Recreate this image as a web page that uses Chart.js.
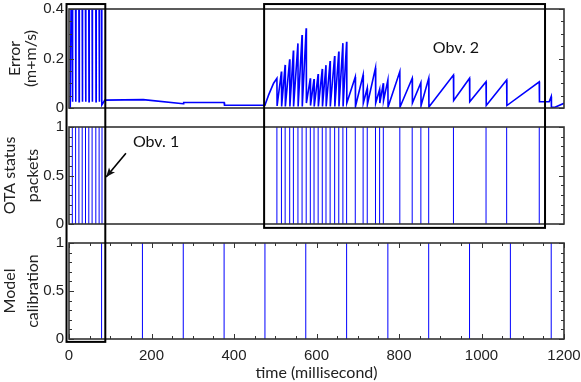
<!DOCTYPE html>
<html>
<head>
<meta charset="utf-8">
<script src="https://cdn.jsdelivr.net/npm/chart.js@4.4.0/dist/chart.umd.min.js"></script>
<style>
  html, body { margin: 0; padding: 0; background: #fff; }
  #wrap { position: relative; width: 581px; height: 382px; }
  canvas { position: absolute; left: 0; }
</style>
</head>
<body>
<div id="wrap">
  <canvas id="errChart" width="581" height="117" style="top:0px"></canvas>
  <canvas id="otaChart" width="581" height="115" style="top:118px"></canvas>
  <canvas id="calChart" width="581" height="148" style="top:234px"></canvas>
  <canvas id="overlay" width="581" height="382" style="top:0px;pointer-events:none"></canvas>
</div>
<script>
// error signal (m+m/s)
const errorTime = [
  3, 5, 8, 8.5, 9, 16, 16.5, 17, 24, 24.5, 25, 32, 32.5, 33, 40, 40.5, 41,
  48, 48.5, 49, 56, 56.5, 57, 65, 65.5, 66, 73, 73.5, 74, 79, 79.5, 87,
  180, 277, 278, 376, 377, 475, 484, 496,
  504, 504.5, 515, 515.5, 524, 524.5, 535, 535.5, 544, 544.5, 555, 555.5, 565, 565.5, 575, 575.5,
  585, 585.5, 594, 594.5, 604, 604.5, 614, 614.5, 623, 623.5, 633, 633.5, 644, 644.5, 654, 654.5,
  664, 664.5, 673, 673.5, 694, 694.5, 713, 713.5, 723, 723.5, 743, 743.5, 753, 753.5, 762, 762.5,
  773, 773.5, 802, 802.5, 832, 832.5, 853, 853.5, 872, 872.5, 932, 932.5, 971, 971.5,
  1011, 1011.5, 1061, 1061.5, 1140, 1140.5, 1164, 1169, 1169.5, 1178, 1200
];
const errorValue = [
  0, 0.4, 0.4, 0.025, 0.4, 0.4, 0.025, 0.4, 0.4, 0.025, 0.4, 0.4, 0.025, 0.4, 0.4, 0.025, 0.4,
  0.4, 0.025, 0.4, 0.4, 0.025, 0.4, 0.4, 0.025, 0.4, 0.4, 0.025, 0.4, 0.4, 0.012, 0.032,
  0.034, 0.017, 0.022, 0.022, 0.011, 0.011, 0.053, 0.1,
  0.12, 0.008, 0.147, 0.006, 0.174, 0.006, 0.197, 0.006, 0.232, 0.006, 0.261, 0.006, 0.295, 0.006, 0.322, 0.02,
  0.12, 0.01, 0.117, 0.006, 0.137, 0.006, 0.158, 0.006, 0.173, 0.006, 0.19, 0.006, 0.21, 0.006, 0.228, 0.006,
  0.262, 0.006, 0.268, 0.02, 0.125, 0.006, 0.133, 0.02, 0.08, 0.015, 0.162, 0.02, 0.075, 0.02, 0.1, 0.03,
  0.113, 0.004, 0.147, 0.004, 0.12, 0.02, 0.102, 0.01, 0.12, 0.004, 0.133, 0.03, 0.12, 0.025,
  0.106, 0.01, 0.113, 0.01, 0.106, 0.025, 0.025, 0.046, 0.003, 0.003, 0.019
];

// OTA status packet arrivals (ms)
const otaPackets = [
  8, 16, 24, 32, 40, 48, 56, 65, 73, 80,
  504, 515, 524, 535, 544, 555, 565, 575, 585, 594, 604, 614, 623, 633, 644, 654, 664, 673,
  694, 713, 723, 743, 753, 762, 802, 832, 853, 872, 932, 1011, 1061, 1140
];

// model calibration events (ms)
const calibrations = [79, 178, 277, 376, 475, 574, 673, 773, 872, 971, 1070, 1169];

const xTicks = [0, 200, 400, 600, 800, 1000, 1200];

const BLUE = '#0000ff';
const tickFont = { family: 'Liberation Sans', size: 15 };

function spikes(times) {
  const pts = [];
  times.forEach(t => {
    pts.push({ x: t, y: 0 }, { x: t, y: 1 }, { x: t, y: null });
  });
  return pts;
}

// box around each plot with short inward ticks on both sides
const frameTicks = {
  id: 'frameTicks',
  afterDatasetsDraw(chart, args, opts) {
    const { ctx, chartArea: a } = chart;
    const ys = chart.scales.y, xs = chart.scales.x;
    ctx.save();
    ctx.strokeStyle = '#333';
    ctx.lineWidth = 1;
    const seg = (x1, y1, x2, y2) => { ctx.beginPath(); ctx.moveTo(x1, y1); ctx.lineTo(x2, y2); ctx.stroke(); };
    let n = Math.round((ys.max - ys.min) / opts.yMinor);
    for (let i = 0; i <= n; i++) {
      const v = ys.min + i * opts.yMinor;
      const py = Math.round(ys.getPixelForValue(v)) + 0.5;
      const r = v / opts.yMajor;
      const len = Math.abs(r - Math.round(r)) < 1e-6 ? 5 : 3;
      seg(a.left, py, a.left + len, py);
      seg(a.right, py, a.right - len, py);
    }
    if (opts.xTicks) {
      n = Math.round((xs.max - xs.min) / opts.xMinor);
      for (let i = 0; i <= n; i++) {
        const v = xs.min + i * opts.xMinor;
        const px = Math.round(xs.getPixelForValue(v)) + 0.5;
        const len = v % opts.xMajor === 0 ? 5 : 3;
        seg(px, a.bottom, px, a.bottom - len);
        seg(px, a.top, px, a.top + len);
      }
    }
    ctx.lineWidth = 1.6;
    ctx.strokeRect(a.left, a.top, a.right - a.left, a.bottom - a.top);
    ctx.restore();
  }
};

function baseOptions(yMax, yStep, titleLines, titleLH, titlePad, ticksCfg, showX, padBottom) {
  return {
    responsive: false,
    animation: false,
    events: [],
    layout: { padding: { top: 9, right: 17, bottom: padBottom, left: 0 } },
    plugins: { legend: { display: false }, tooltip: { enabled: false }, frameTicks: ticksCfg },
    scales: {
      x: {
        type: 'linear', min: 0, max: 1200,
        display: showX,
        grid: { display: false, drawTicks: false },
        border: { display: false },
        afterBuildTicks: s => { s.ticks = xTicks.map(v => ({ value: v })); },
        afterFit: s => {
          if (showX) s.height = 43;
          s.paddingLeft = 0; s.paddingRight = 0;
        },
        ticks: { font: tickFont, color: '#222', padding: 8, maxRotation: 0, callback: v => String(v) },
        title: {
          display: showX, text: 'time (millisecond)', color: '#222',
          font: { family: 'Lato', size: 16, lineHeight: 1.2 },
          padding: { top: 0, bottom: 0 }
        }
      },
      y: {
        min: 0, max: yMax,
        grid: { display: false, drawTicks: false },
        border: { display: false },
        afterFit: s => {
          s.width = 69;
          s.paddingTop = 0; s.paddingBottom = 0;
        },
        ticks: { stepSize: yStep, font: tickFont, color: '#222', padding: 5, callback: v => String(v) },
        title: {
          display: true, text: titleLines, color: '#222',
          font: { family: 'Lato', size: 16, lineHeight: titleLH },
          padding: { top: titlePad, bottom: 0 }
        }
      }
    }
  };
}

const errChart = new Chart(document.getElementById('errChart'), {
  type: 'line',
  data: {
    datasets: [{
      data: errorTime.map((t, i) => ({ x: t, y: errorValue[i] })),
      borderColor: BLUE, borderWidth: 1.6, pointRadius: 0, tension: 0
    }]
  },
  options: baseOptions(0.4, 0.2, ['Error', '(m+m/s)'], 1.05, 6,
    { yMajor: 0.2, yMinor: 0.05, xTicks: false }, false, 9),
  plugins: [frameTicks]
});

const otaChart = new Chart(document.getElementById('otaChart'), {
  type: 'line',
  data: {
    datasets: [{
      data: spikes(otaPackets),
      borderColor: BLUE, borderWidth: 1, pointRadius: 0, tension: 0, spanGaps: false
    }]
  },
  options: baseOptions(1, 0.5, ['OTA status', 'packets'], 1.45, -2,
    { yMajor: 0.5, yMinor: 0.1, xTicks: false }, false, 9),
  plugins: [frameTicks]
});

const calChart = new Chart(document.getElementById('calChart'), {
  type: 'line',
  data: {
    datasets: [{
      data: spikes(calibrations),
      borderColor: BLUE, borderWidth: 1, pointRadius: 0, tension: 0, spanGaps: false
    }]
  },
  options: baseOptions(1, 0.5, ['Model', 'calibration'], 1.45, -2,
    { yMajor: 0.5, yMinor: 0.1, xTicks: true, xMajor: 200, xMinor: 50 }, true, 0),
  plugins: [frameTicks]
});

// annotations spanning the panels
const tops = { err: 0, ota: 118, cal: 234 };
function at(chart, top, xv, yv) {
  return [chart.scales.x.getPixelForValue(xv), top + chart.scales.y.getPixelForValue(yv)];
}

const ov = document.getElementById('overlay').getContext('2d');
ov.strokeStyle = '#000';
ov.lineWidth = 2;

function box(x0, x1, topChart, topOff, yTop, botChart, botOff, yBot) {
  const p0 = at(topChart, topOff, x0, yTop);
  const p1 = at(botChart, botOff, x1, yBot);
  ov.strokeRect(p0[0], p0[1], p1[0] - p0[0], p1[1] - p0[1]);
}
box(-6, 88, errChart, tops.err, 0.42, calChart, tops.cal, -0.03);
box(473, 1154, errChart, tops.err, 0.42, otaChart, tops.ota, -0.04);

ov.fillStyle = '#111';
ov.font = '16px Lato';
ov.textAlign = 'center';
ov.textBaseline = 'middle';
let p = at(errChart, tops.err, 938, 0.244);
ov.fillText('Obv. 2', p[0], p[1]);
p = at(otaChart, tops.ota, 211, 0.845);
ov.fillText('Obv. 1', p[0], p[1]);

// arrow to Obv. 1
const tail = at(otaChart, tops.ota, 138, 0.73);
const head = at(otaChart, tops.ota, 90, 0.485);
ov.lineWidth = 1.6;
ov.beginPath();
ov.moveTo(tail[0], tail[1]);
ov.lineTo(head[0], head[1]);
ov.stroke();
const ang = Math.atan2(head[1] - tail[1], head[0] - tail[0]);
ov.beginPath();
ov.moveTo(head[0], head[1]);
ov.lineTo(head[0] - 10 * Math.cos(ang - 0.4), head[1] - 10 * Math.sin(ang - 0.4));
ov.lineTo(head[0] - 7 * Math.cos(ang), head[1] - 7 * Math.sin(ang));
ov.lineTo(head[0] - 10 * Math.cos(ang + 0.4), head[1] - 10 * Math.sin(ang + 0.4));
ov.closePath();
ov.fill();
</script>
</body>
</html>
